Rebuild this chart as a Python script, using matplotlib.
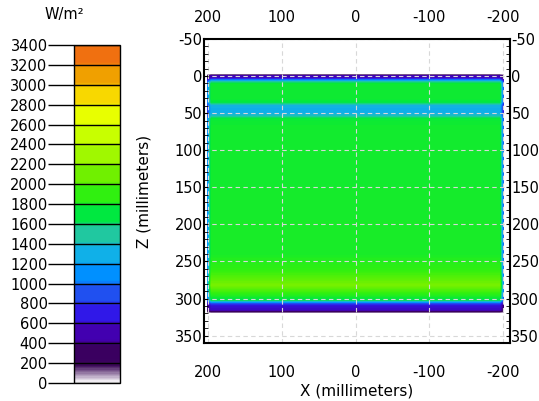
import matplotlib
matplotlib.use("Agg")
import matplotlib.pyplot as plt
import numpy as np
from matplotlib.colors import LinearSegmentedColormap, Normalize
from matplotlib.cm import ScalarMappable
from matplotlib.ticker import MultipleLocator

# irradiance profile read along Z (mm) at the plate centre, W/m²
z_mm = [-1.5, 0, 3, 5, 8, 11, 30, 35, 39, 44, 50, 54, 58, 70, 150, 240, 262, 282, 296, 302, 304, 306, 309, 314, 316, 317.5, 319]
q_z = [120, 520, 560, 950, 1500, 1760, 1760, 1680, 1330, 1280, 1300, 1420, 1740, 1780, 1780, 1800, 1900, 2120, 1820, 1650, 1250, 900, 640, 580, 480, 160, 80]

# relative drop at the X edges
x_mm = [-200, -198, -195, 195, 198, 200]
x_factor = [0.5, 0.7, 1.0, 1.0, 0.75, 0.6]

cbar_ticks = list(range(0, 3401, 200))
x_ticks = [200, 100, 0, -100, -200]
z_ticks = [-50, 0, 50, 100, 150, 200, 250, 300, 350]

band_colors = ["#3c0a58", "#3a0060", "#4200b0", "#3018e8", "#2050f0", "#0090ff",
               "#10b0e8", "#20c8a0", "#00e840", "#30f010", "#70f000", "#a0f800",
               "#c8ff00", "#e8ff00", "#f8d800", "#f0a000", "#f07010"]

# smooth map for the field: band colours at band centres
smooth = [(0.0, "#ffffff"), (190 / 3400, band_colors[0])]
for i, c in enumerate(band_colors[1:], start=1):
    smooth.append(((i * 200 + 100) / 3400, c))
smooth.append((1.0, band_colors[-1]))
cmap_field = LinearSegmentedColormap.from_list("irr_s", smooth)

# stepped map for the legend: flat colour per 200 W/m² band
stepped = [(0.0, "#ffffff")]
for i, c in enumerate(band_colors):
    lo, hi = i * 200, (i + 1) * 200
    if i > 0:
        stepped.append(((lo + 30) / 3400, c))
    stepped.append(((hi - 30) / 3400, c))
stepped.append((1.0, band_colors[-1]))
cmap_bar = LinearSegmentedColormap.from_list("irr_b", stepped)
norm = Normalize(0, 3400)

plt.rcParams['font.family'] = ['DejaVu Sans']
plt.rcParams['axes.unicode_minus'] = False
fs = 10.5

fig = plt.figure(figsize=(5.39, 4.01), dpi=100)
ax = fig.add_axes([204 / 539, 1 - 343 / 401, 306 / 539, 304 / 401])

Q = np.outer(q_z, x_factor)
ax.contourf(x_mm, z_mm, Q, levels=np.arange(0, 3401, 10), cmap=cmap_field, norm=norm, zorder=1)

ax.set_xlim(205, -209)
ax.set_ylim(360, -50)
ax.set_xticks(x_ticks)
ax.set_yticks(z_ticks)
ax.yaxis.set_minor_locator(MultipleLocator(10))
ax.grid(True, ls=(0, (4, 3)), color="#d8d8d8", lw=0.8)
ax.set_axisbelow("line")
ax.tick_params(axis="x", top=False, bottom=False, labeltop=False, labelbottom=True,
               length=0, pad=16, labelsize=fs)
ax.tick_params(axis="y", which="both", left=True, right=True, labelleft=True,
               labelright=True, direction="in", length=3, pad=1, labelsize=fs)
for s in ax.spines.values():
    s.set_linewidth(1.5)
    s.set_zorder(3)
ax.set_xlabel("X (millimeters)", fontsize=11, labelpad=2)
ax.set_ylabel("Z (millimeters)", fontsize=11)
ax.yaxis.set_label_coords(-0.172, 0.5)

top = ax.secondary_xaxis("top")
top.set_xticks(x_ticks)
top.tick_params(length=0, pad=10, labelsize=fs)
top.spines["top"].set_visible(False)

# colour legend
cax = fig.add_axes([74 / 539, 1 - 383 / 401, 46 / 539, 338 / 401])
cb = fig.colorbar(ScalarMappable(norm=norm, cmap=cmap_bar), cax=cax, ticks=cbar_ticks)
cax.yaxis.set_ticks_position("left")
cax.tick_params(length=19, width=1, pad=0, labelsize=fs)
for v in cbar_ticks:
    cax.axhline(v, color="black", lw=1)
cb.outline.set_linewidth(1)
fig.text(64 / 539, 1 - 15 / 401, "W/m²", ha="center", va="center", fontsize=fs)

fig.savefig("out.png", dpi=100)
